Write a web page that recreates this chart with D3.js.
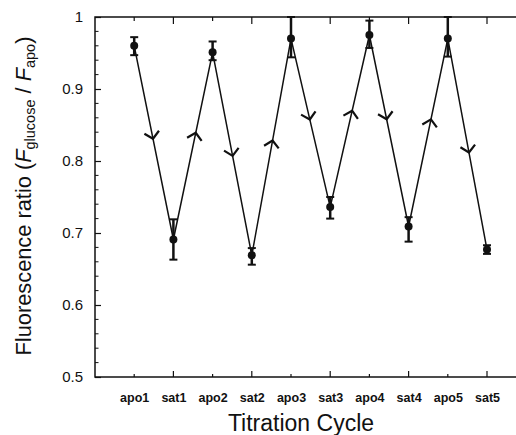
<!DOCTYPE html>
<html lang="en">
<head>
<meta charset="UTF-8">
<title>Titration Cycle</title>
<script src="https://d3js.org/d3.v7.min.js"></script>
<style>
  body { margin: 0; background: #fff; }
  svg { font-family: "Liberation Sans", Arial, sans-serif; display: block; }
</style>
</head>
<body>
<div id="chart"></div>
<script>
// data
var cycles = ["apo1", "sat1", "apo2", "sat2", "apo3", "sat3", "apo4", "sat4", "apo5", "sat5"];
var ratio  = [0.960, 0.691, 0.951, 0.669, 0.970, 0.736, 0.975, 0.709, 0.970, 0.677];
var errHi  = [0.972, 0.719, 0.966, 0.679, 1.000, 0.750, 0.995, 0.722, 1.000, 0.683];
var errLo  = [0.947, 0.663, 0.940, 0.656, 0.944, 0.720, 0.957, 0.688, 0.945, 0.671];
// where the arrow sits along each segment (fraction)
var arrowAt = [0.48, 0.57, 0.51, 0.53, 0.48, 0.56, 0.44, 0.57, 0.54];
var yTicks = [0.5, 0.6, 0.7, 0.8, 0.9, 1.0];

var width = 516, height = 435;
var margin = {left: 95, top: 17};
var plotH = 360, step = 39.2;

var svg = d3.select("#chart").append("svg")
    .attr("width", width)
    .attr("height", height);

var x = d3.scaleLinear().domain([0, cycles.length + 1])
    .range([margin.left, margin.left + step * (cycles.length + 1)]);
var y = d3.scaleLinear().domain([0.5, 1]).range([margin.top + plotH, margin.top]);

var pts = cycles.map(function(c, i) { return {name: c, i: i + 1, v: ratio[i], hi: errHi[i], lo: errLo[i]}; });

// frame
svg.append("rect")
    .attr("x", x(0)).attr("y", y(1))
    .attr("width", x(cycles.length + 1) - x(0))
    .attr("height", y(0.5) - y(1))
    .attr("fill", "none").attr("stroke", "#111").attr("stroke-width", 1.5);

// y minor ticks
var minor = d3.range(0.52, 1.0, 0.02).filter(function(t) { return Math.abs(t * 10 - Math.round(t * 10)) > 0.01; });
svg.append("g").selectAll("line").data(minor).enter().append("line")
    .attr("x1", x(0)).attr("x2", x(0) + 3.5)
    .attr("y1", function(d) { return y(d); }).attr("y2", function(d) { return y(d); })
    .attr("stroke", "#111").attr("stroke-width", 1);

// y axis
var yAxis = d3.axisLeft(y).tickValues(yTicks).tickSizeInner(-6).tickSizeOuter(0).tickPadding(12)
    .tickFormat(function(d) { return d === 1 ? "1" : d3.format(".1f")(d); });
var gy = svg.append("g").attr("transform", "translate(" + x(0) + ",0)").call(yAxis);
gy.select(".domain").remove();
gy.selectAll("line").attr("stroke", "#111").attr("stroke-width", 1.2);
gy.selectAll("text").attr("font-size", 15).attr("fill", "#111")
    .attr("font-family", "'Liberation Sans', Arial, sans-serif");

// x axis bottom
var xAxis = d3.axisBottom(x).tickValues(d3.range(1, cycles.length + 1))
    .tickSizeInner(0).tickSizeOuter(0).tickPadding(16)
    .tickFormat(function(d) { return cycles[d - 1]; });
var gx = svg.append("g").attr("transform", "translate(0," + y(0.5) + ")").call(xAxis);
gx.select(".domain").remove();
gx.selectAll("text").attr("font-size", 12.5).attr("font-weight", "bold").attr("fill", "#111")
    .attr("font-family", "'Liberation Sans', Arial, sans-serif");

// inward x ticks, bottom and top (sat longer than apo)
function tickLen(d) { return d % 2 === 0 ? 6 : 3; }
var xt = d3.range(1, cycles.length + 1);
svg.append("g").selectAll("line").data(xt).enter().append("line")
    .attr("x1", function(d) { return x(d); }).attr("x2", function(d) { return x(d); })
    .attr("y1", y(0.5)).attr("y2", function(d) { return y(0.5) - tickLen(d); })
    .attr("stroke", "#111").attr("stroke-width", 1.2);
svg.append("g").selectAll("line").data(xt).enter().append("line")
    .attr("x1", function(d) { return x(d); }).attr("x2", function(d) { return x(d); })
    .attr("y1", y(1)).attr("y2", function(d) { return y(1) + tickLen(d) + 1; })
    .attr("stroke", "#111").attr("stroke-width", 1.2);

// connecting line
var line = d3.line().x(function(d) { return x(d.i); }).y(function(d) { return y(d.v); });
svg.append("path").datum(pts)
    .attr("d", line)
    .attr("fill", "none").attr("stroke", "#111").attr("stroke-width", 1.5);

// direction chevrons
var arms = 10, half = 48 * Math.PI / 180;
var segs = d3.pairs(pts);
svg.append("g").selectAll("path").data(segs).enter().append("path")
    .attr("d", function(s, k) {
        var x0 = x(s[0].i), y0 = y(s[0].v), x1 = x(s[1].i), y1 = y(s[1].v);
        var f = arrowAt[k];
        var px = x0 + (x1 - x0) * f, py = y0 + (y1 - y0) * f;
        var a = Math.atan2(y1 - y0, x1 - x0);
        var ax = px - arms * Math.cos(a - half), ay = py - arms * Math.sin(a - half);
        var bx = px - arms * Math.cos(a + half), by = py - arms * Math.sin(a + half);
        return "M" + ax + "," + ay + "L" + px + "," + py + "L" + bx + "," + by;
    })
    .attr("fill", "none").attr("stroke", "#111").attr("stroke-width", 2.2)
    .attr("stroke-linejoin", "miter");

// error bars
var eb = svg.append("g").attr("stroke", "#111");
eb.selectAll(".v").data(pts).enter().append("line")
    .attr("x1", function(d) { return x(d.i); }).attr("x2", function(d) { return x(d.i); })
    .attr("y1", function(d) { return y(d.hi); }).attr("y2", function(d) { return y(d.lo); })
    .attr("stroke-width", 2.5);
eb.selectAll(".h").data(pts).enter().append("line")
    .attr("x1", function(d) { return x(d.i) - 4; }).attr("x2", function(d) { return x(d.i) + 4; })
    .attr("y1", function(d) { return y(d.hi); }).attr("y2", function(d) { return y(d.hi); })
    .attr("stroke-width", 2);
eb.selectAll(".l").data(pts).enter().append("line")
    .attr("x1", function(d) { return x(d.i) - 4; }).attr("x2", function(d) { return x(d.i) + 4; })
    .attr("y1", function(d) { return y(d.lo); }).attr("y2", function(d) { return y(d.lo); })
    .attr("stroke-width", 2);

// points
svg.append("g").selectAll("circle").data(pts).enter().append("circle")
    .attr("cx", function(d) { return x(d.i); })
    .attr("cy", function(d) { return y(d.v); })
    .attr("r", 4).attr("fill", "#111");

// axis titles
svg.append("text")
    .attr("x", 301).attr("y", 431)
    .attr("text-anchor", "middle")
    .attr("font-size", 23).attr("fill", "#111")
    .text("Titration Cycle");

var yt = svg.append("text")
    .attr("transform", "translate(31,196) rotate(-90)")
    .attr("text-anchor", "middle")
    .attr("font-size", 21.8).attr("fill", "#111");
yt.append("tspan").text("Fluorescence ratio (");
yt.append("tspan").attr("font-style", "italic").text("F");
yt.append("tspan").attr("font-size", 14.5).attr("dy", 4).text("glucose");
yt.append("tspan").attr("dy", -4).text(" / ");
yt.append("tspan").attr("font-style", "italic").text("F");
yt.append("tspan").attr("font-size", 14.5).attr("dy", 4).text("apo");
yt.append("tspan").attr("dy", -4).text(")");
</script>
</body>
</html>
